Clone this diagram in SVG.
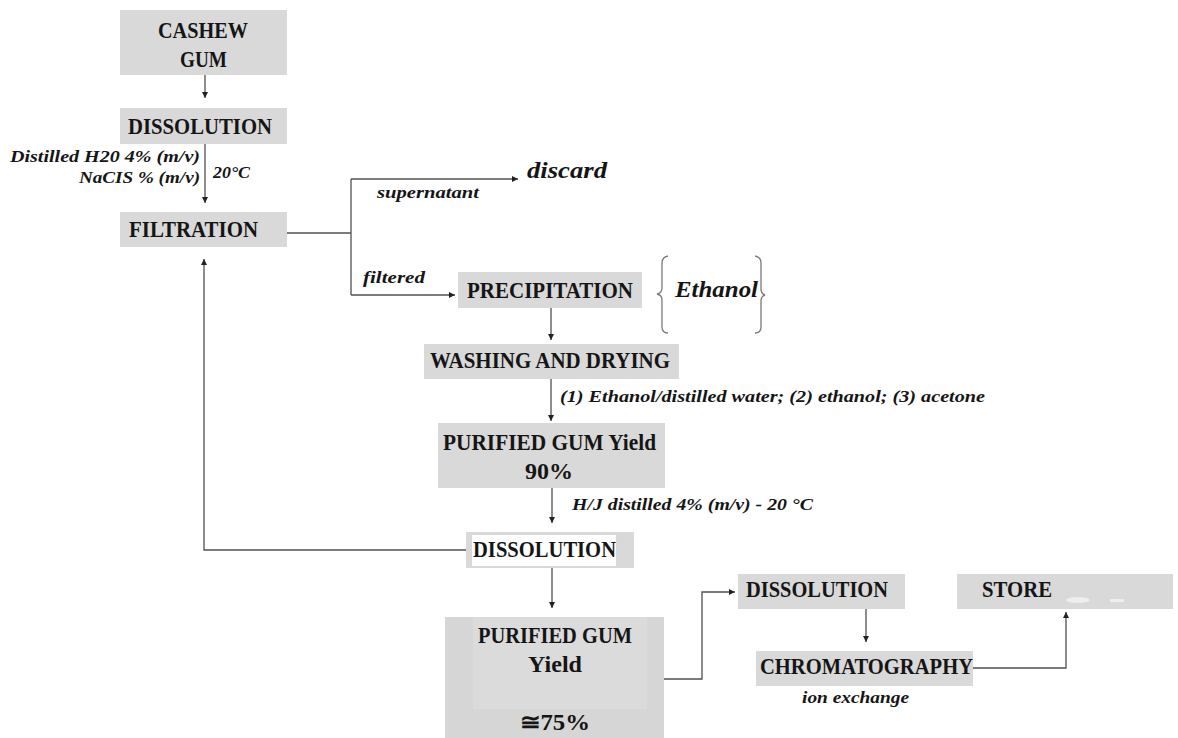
<svg xmlns="http://www.w3.org/2000/svg" width="1178" height="738" viewBox="0 0 1178 738">
<style>
.box{fill:#d9d9d9}
.t{font-family:"Liberation Serif","DejaVu Serif",serif;font-weight:bold;font-size:23px;fill:#151515}
.it{font-family:"Liberation Serif","DejaVu Serif",serif;font-weight:bold;font-style:italic;font-size:16px;fill:#151515}
.big{font-size:24px}
.ln{fill:none;stroke:#505050;stroke-width:1.3}
.br{fill:none;stroke:#7a7a7a;stroke-width:1.3}
</style>
<defs>
<marker id="ah" markerUnits="userSpaceOnUse" markerWidth="6" markerHeight="6" refX="6" refY="3" orient="auto">
<path d="M0,0 L6,3 L0,6 z" fill="#222"/>
</marker>
</defs>
<rect width="1178" height="738" fill="#ffffff"/>

<g id="connectors">
<path class="ln" d="M205,75 V98" marker-end="url(#ah)"/>
<path class="ln" d="M205,144 V203" marker-end="url(#ah)"/>
<path class="ln" d="M287,233 H351"/>
<path class="ln" d="M351,179 V295"/>
<path class="ln" d="M351,179 H518" marker-end="url(#ah)"/>
<path class="ln" d="M351,295 H455" marker-end="url(#ah)"/>
<path class="ln" d="M551,308 V340" marker-end="url(#ah)"/>
<path class="ln" d="M551,379 V421" marker-end="url(#ah)"/>
<path class="ln" d="M552,488 V523" marker-end="url(#ah)"/>
<path class="ln" d="M466,550 H204 V259" marker-end="url(#ah)"/>
<path class="ln" d="M552,568 V608" marker-end="url(#ah)"/>
<path class="ln" d="M664,679 H702 V592 H735" marker-end="url(#ah)"/>
<path class="ln" d="M866,609 V642" marker-end="url(#ah)"/>
<path class="ln" d="M973,668 H1066 V612" marker-end="url(#ah)"/>
</g>

<g id="labels">
<text class="it" x="200" y="162" text-anchor="end" textLength="190" lengthAdjust="spacingAndGlyphs">Distilled H20 4% (m/v)</text>
<text class="it" x="200" y="183" text-anchor="end" textLength="121" lengthAdjust="spacingAndGlyphs">NaCIS % (m/v)</text>
<text class="it" x="213" y="178" textLength="37" lengthAdjust="spacingAndGlyphs">20°C</text>
<text class="it" x="377" y="198" textLength="102" lengthAdjust="spacingAndGlyphs">supernatant</text>
<text class="it big" x="527" y="178" textLength="80" lengthAdjust="spacingAndGlyphs">discard</text>
<text class="it" x="363" y="283" textLength="62" lengthAdjust="spacingAndGlyphs">filtered</text>
<text class="it" x="560" y="402" font-size="17" textLength="425" lengthAdjust="spacingAndGlyphs">(1) Ethanol/distilled water; (2) ethanol; (3) acetone</text>
<text class="it" x="572" y="510" font-size="17" textLength="241" lengthAdjust="spacingAndGlyphs">H/J distilled 4% (m/v) - 20 °C</text>
<text class="it" x="802" y="703" font-size="17" textLength="107" lengthAdjust="spacingAndGlyphs">ion exchange</text>
</g>

<g id="ethanol">
<path class="br" d="M668,256 Q662,257 662,263 V288 Q662,293 657,294 Q662,295 662,300 V327 Q662,333 668,333"/>
<path class="br" d="M755,256 Q761,257 761,263 V289 Q761,294 765,295 Q761,296 761,301 V327 Q761,333 755,333"/>
<text class="it big" x="675" y="297" textLength="83" lengthAdjust="spacingAndGlyphs">Ethanol</text>
</g>

<g id="cashew">
<rect class="box" x="120" y="10" width="167" height="65"/>
<text class="t" x="158" y="38" textLength="90" lengthAdjust="spacingAndGlyphs">CASHEW</text>
<text class="t" x="180" y="67" textLength="47" lengthAdjust="spacingAndGlyphs">GUM</text>
</g>

<g id="dissolution1">
<rect class="box" x="120" y="108" width="167" height="36"/>
<text class="t" x="128" y="134" textLength="144" lengthAdjust="spacingAndGlyphs">DISSOLUTION</text>
</g>

<g id="filtration">
<rect class="box" x="120" y="212" width="167" height="35"/>
<text class="t" x="129" y="237" textLength="129" lengthAdjust="spacingAndGlyphs">FILTRATION</text>
</g>

<g id="precipitation">
<rect class="box" x="458" y="272" width="184" height="36"/>
<text class="t" x="467" y="298" textLength="166" lengthAdjust="spacingAndGlyphs">PRECIPITATION</text>
</g>

<g id="washing">
<rect class="box" x="424" y="344" width="255" height="35"/>
<text class="t" x="430" y="368" textLength="240" lengthAdjust="spacingAndGlyphs">WASHING AND DRYING</text>
</g>

<g id="purified90">
<rect class="box" x="438" y="423" width="227" height="65"/>
<text class="t" x="443" y="450" textLength="213" lengthAdjust="spacingAndGlyphs">PURIFIED GUM Yield</text>
<text class="t" x="525" y="479" textLength="48" lengthAdjust="spacingAndGlyphs">90%</text>
</g>

<g id="dissolution2">
<rect class="box" x="466" y="532" width="168" height="36"/>
<rect x="472" y="535" width="144" height="31" fill="#ffffff"/>
<text class="t" x="473" y="557" textLength="143" lengthAdjust="spacingAndGlyphs">DISSOLUTION</text>
</g>

<g id="purified75">
<rect x="445" y="617" width="219" height="121" fill="#d6d6d6"/>
<rect x="473" y="617" width="174" height="92" fill="#dbdbdb"/>
<text class="t" x="478" y="643" textLength="154" lengthAdjust="spacingAndGlyphs">PURIFIED GUM</text>
<text class="t" x="528" y="672" textLength="54" lengthAdjust="spacingAndGlyphs">Yield</text>
<text class="t" x="520" y="730" textLength="70" lengthAdjust="spacingAndGlyphs">≅75%</text>
</g>

<g id="dissolution3">
<rect class="box" x="738" y="574" width="167" height="35"/>
<text class="t" x="746" y="597" textLength="142" lengthAdjust="spacingAndGlyphs">DISSOLUTION</text>
</g>

<g id="chromatography">
<rect class="box" x="756" y="651" width="217" height="35"/>
<text class="t" x="760" y="674" textLength="213" lengthAdjust="spacingAndGlyphs">CHROMATOGRAPHY</text>
</g>

<g id="store">
<rect class="box" x="957" y="574" width="216" height="35"/>
<ellipse cx="1078" cy="600" rx="12" ry="3" fill="#eeeeee"/>
<rect x="1110" y="599" width="14" height="3" fill="#eeeeee"/>
<text class="t" x="982" y="597" textLength="70" lengthAdjust="spacingAndGlyphs">STORE</text>
</g>
</svg>
